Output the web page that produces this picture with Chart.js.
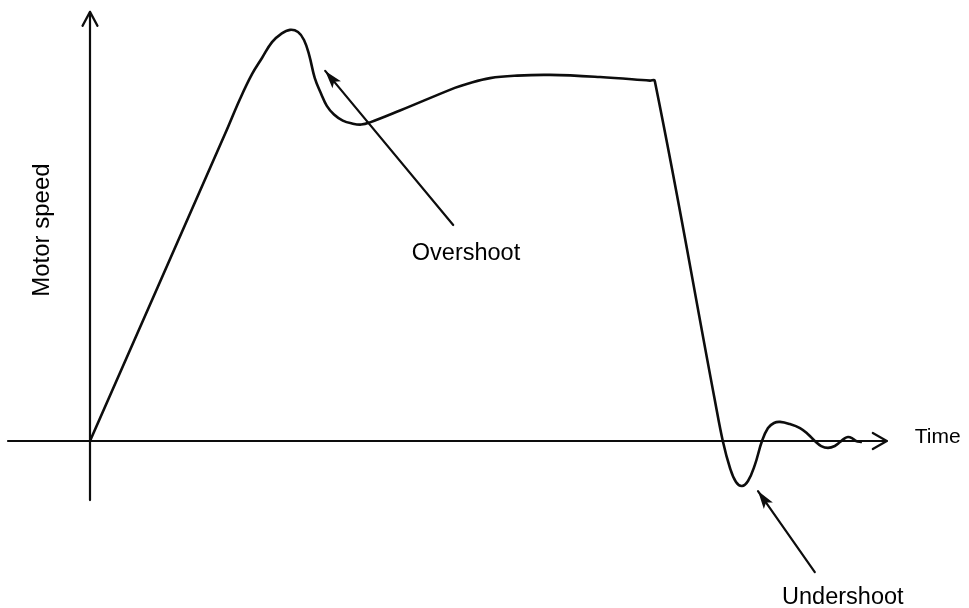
<!DOCTYPE html>
<html>
<head>
<meta charset="utf-8">
<title>Motor speed response</title>
<script src="https://cdn.jsdelivr.net/npm/chart.js@4.4.1/dist/chart.umd.min.js"></script>
<style>
  html, body { margin: 0; padding: 0; background: #ffffff; }
  #wrap { width: 969px; height: 608px; }
</style>
</head>
<body>
<div id="wrap"><canvas id="c" width="969" height="608"></canvas></div>
<script>
// Motor speed against time: ramp up, overshoot, settle, then braking with undershoot.
const timeVals = [
  0, 16.9, 18.75, 20.25, 21.5, 22.75, 23.9, 25, 26, 26.75, 27.4, 28.1, 28.9, 29.6, 30.5, 31.6, 32.75,
  33.9, 35, 38.75, 45.6, 47.1, 50, 53.4, 57.5, 63.75, 70, 70.6, 78.1, 79.1, 80, 80.75,
  81.5, 82.25, 83.1, 84, 84.75, 85.5, 86.25, 87.5, 88.75, 89.75, 90.6, 91.4, 92.25, 93.1,
  93.75, 94.25, 94.75, 95.25, 95.75, 96.5
];
const speedVals = [
  0, 85.4, 95, 101.9, 106.4, 110.8, 113.1, 114.2, 113.6, 111.4, 107.2, 100.8, 96.4, 93.1, 90.7, 89, 88.2,
  87.9, 88.5, 91.8, 98.1, 99.2, 100.8, 101.5, 101.7, 101.1, 100.1, 100, 11.4, 0, -7.5, -11.4,
  -12.5, -11.1, -6.7, 0, 3.6, 5, 5.3, 4.7, 3.6, 1.9, 0, -1.4, -1.9, -1.4,
  -0.3, 0.6, 1.1, 0.8, 0, -0.3
];

// Axis extents (data units) and axis names
const axisTimeRange = [-10.25, 99.6];
const axisSpeedRange = [-16.4, 119.2];
const axisNames = { time: 'Time', speed: 'Motor speed' };

// Callouts: label text, label anchor, and arrow from tail to head (data units)
const callouts = [
  { text: 'Overshoot', label: [47, 52.2], tail: [45.4, 60], head: [29.4, 102.8] },
  { text: 'Undershoot', label: [94.1, -43.6], tail: [90.6, -36.4], head: [83.5, -13.9] }
];

const FONT = '"Liberation Sans", Arial, Helvetica, sans-serif';
const INK = '#0d0d0d';

const points = timeVals.map((t, i) => ({ x: t, y: speedVals[i] }));

function openArrow(ctx, x1, y1, x2, y2, len, half) {
  const a = Math.atan2(y2 - y1, x2 - x1);
  const ux = Math.cos(a), uy = Math.sin(a);
  const bx = x2 - ux * len, by = y2 - uy * len;
  ctx.beginPath();
  ctx.moveTo(bx - uy * half, by + ux * half);
  ctx.lineTo(x2, y2);
  ctx.lineTo(bx + uy * half, by - ux * half);
  ctx.stroke();
}

function filledArrow(ctx, x1, y1, x2, y2, len, half) {
  const a = Math.atan2(y2 - y1, x2 - x1);
  const ux = Math.cos(a), uy = Math.sin(a);
  const bx = x2 - ux * len, by = y2 - uy * len;
  ctx.beginPath();
  ctx.moveTo(x2, y2);
  ctx.lineTo(bx - uy * half, by + ux * half);
  ctx.lineTo(bx + ux * 4, by + uy * 4);
  ctx.lineTo(bx + uy * half, by - ux * half);
  ctx.closePath();
  ctx.fill();
}

const sketchAxes = {
  id: 'sketchAxes',
  beforeDatasetsDraw(chart) {
    const { ctx, scales: { x, y } } = chart;
    const ox = x.getPixelForValue(0), oy = y.getPixelForValue(0);
    const xs = x.getPixelForValue(axisTimeRange[0]), xe = x.getPixelForValue(axisTimeRange[1]);
    const ys = y.getPixelForValue(axisSpeedRange[0]), ye = y.getPixelForValue(axisSpeedRange[1]);
    ctx.save();
    ctx.strokeStyle = INK;
    ctx.lineWidth = 2.2;
    ctx.lineCap = 'round';
    ctx.lineJoin = 'round';
    ctx.beginPath();
    ctx.moveTo(xs, oy); ctx.lineTo(xe, oy);
    ctx.moveTo(ox, ys); ctx.lineTo(ox, ye);
    ctx.stroke();
    openArrow(ctx, xs, oy, xe, oy, 14, 8);
    openArrow(ctx, ox, ys, ox, ye, 14, 7.5);

    ctx.fillStyle = '#000';
    ctx.font = '21px ' + FONT;
    ctx.textAlign = 'left';
    ctx.textBaseline = 'middle';
    ctx.fillText(axisNames.time, xe + 28, oy - 4);

    ctx.save();
    ctx.translate(42, y.getPixelForValue(58.6));
    ctx.rotate(-Math.PI / 2);
    ctx.textAlign = 'center';
    ctx.font = '24px ' + FONT;
    ctx.fillText(axisNames.speed, 0, 0);
    ctx.restore();
    ctx.restore();
  },
  afterDatasetsDraw(chart) {
    const { ctx, scales: { x, y } } = chart;
    ctx.save();
    ctx.strokeStyle = INK;
    ctx.fillStyle = INK;
    ctx.lineWidth = 2.2;
    ctx.lineCap = 'round';
    callouts.forEach(c => {
      const tx = x.getPixelForValue(c.tail[0]), ty = y.getPixelForValue(c.tail[1]);
      const hx = x.getPixelForValue(c.head[0]), hy = y.getPixelForValue(c.head[1]);
      ctx.beginPath();
      ctx.moveTo(tx, ty);
      ctx.lineTo(hx, hy);
      ctx.stroke();
      filledArrow(ctx, tx, ty, hx, hy, 18, 5.5);
      ctx.fillStyle = '#000';
      ctx.font = '23.5px ' + FONT;
      ctx.textAlign = 'center';
      ctx.textBaseline = 'middle';
      ctx.fillText(c.text, x.getPixelForValue(c.label[0]), y.getPixelForValue(c.label[1]));
      ctx.fillStyle = INK;
    });
    ctx.restore();
  }
};

new Chart(document.getElementById('c'), {
  type: 'line',
  data: {
    datasets: [{
      data: points,
      borderColor: INK,
      borderWidth: 2.6,
      pointRadius: 0,
      fill: false,
      tension: 0.4
    }]
  },
  options: {
    responsive: false,
    animation: false,
    events: [],
    layout: { padding: 0 },
    plugins: { legend: { display: false }, tooltip: { enabled: false } },
    scales: {
      x: { type: 'linear', min: -11.25, max: 109.875, display: false },
      y: { type: 'linear', min: -46.39, max: 122.5, display: false }
    }
  },
  plugins: [sketchAxes]
});
</script>
</body>
</html>
